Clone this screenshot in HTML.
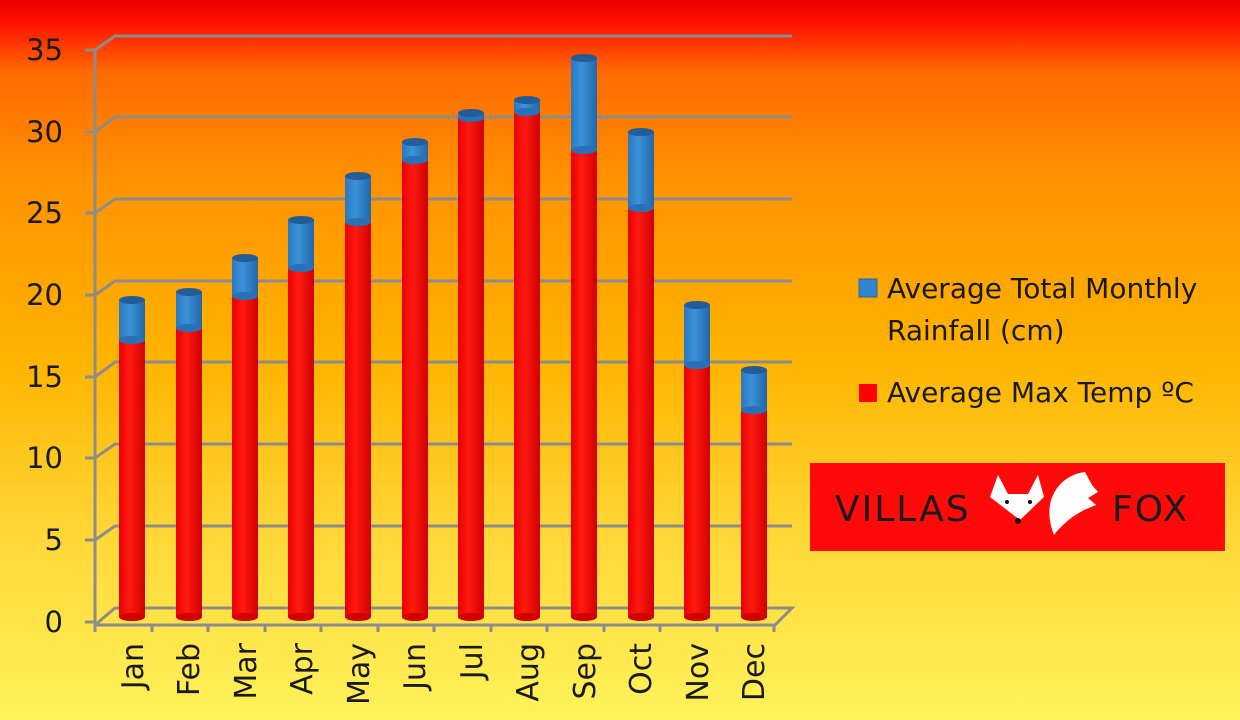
<!DOCTYPE html>
<html><head><meta charset="utf-8"><style>
html,body{margin:0;padding:0;width:1240px;height:720px;overflow:hidden}
svg{display:block}
text{font-family:"DejaVu Sans","Liberation Sans",sans-serif;fill:#1a1a1a}
</style></head><body>
<svg id="s" width="1240" height="720" viewBox="0 0 1240 720" xmlns="http://www.w3.org/2000/svg">
<defs>
<linearGradient id="bg" x1="0" y1="0" x2="0" y2="1">
<stop offset="0" stop-color="#e80000"/>
<stop offset="0.03" stop-color="#ff1000"/>
<stop offset="0.1" stop-color="#ff6a00"/>
<stop offset="0.25" stop-color="#ff9200"/>
<stop offset="0.5" stop-color="#ffb400"/>
<stop offset="0.75" stop-color="#ffd838"/>
<stop offset="1" stop-color="#fff25a"/>
</linearGradient>
<linearGradient id="red" x1="0" y1="0" x2="1" y2="0">
<stop offset="0" stop-color="#e80000"/><stop offset="0.4" stop-color="#ff1a10"/><stop offset="1" stop-color="#d00000"/>
</linearGradient>
<linearGradient id="blue" x1="0" y1="0" x2="1" y2="0">
<stop offset="0" stop-color="#2a78c0"/><stop offset="0.4" stop-color="#3a92d8"/><stop offset="1" stop-color="#2266aa"/>
</linearGradient>
</defs>
<rect width="1240" height="720" fill="url(#bg)"/>
<g stroke="#8c8c8c" stroke-width="3" fill="none">
<path d="M95 50 L95 625 M95 625 L775 625 L792 608 L115 608 L95 625"/>
<path d="M85 50 H95 L115 36 H792"/>
<path d="M85 132 H95 L115 117 H792"/>
<path d="M85 213 H95 L115 199 H792"/>
<path d="M85 295 H95 L115 281 H792"/>
<path d="M85 377 H95 L115 362 H792"/>
<path d="M85 458 H95 L115 444 H792"/>
<path d="M85 540 H95 L115 526 H792"/>
<path d="M85 622 H95"/>
<path d="M95 625 V632 M152 625 V632 M208 625 V632 M265 625 V632 M321 625 V632 M378 625 V632 M434 625 V632 M491 625 V632 M547 625 V632 M604 625 V632 M660 625 V632 M717 625 V632 M774 625 V632"/>
</g>
<g font-size="29" text-anchor="end">
<text x="63" y="60">35</text><text x="63" y="142">30</text><text x="63" y="223">25</text><text x="63" y="305">20</text><text x="63" y="387">15</text><text x="63" y="468">10</text><text x="63" y="550">5</text><text x="63" y="632">0</text>
</g>
<g id="bars"></g>
<g font-size="30" text-anchor="end">
<text transform="translate(143,643) rotate(-90)">Jan</text>
<text transform="translate(199,643) rotate(-90)">Feb</text>
<text transform="translate(256,643) rotate(-90)">Mar</text>
<text transform="translate(312,643) rotate(-90)">Apr</text>
<text transform="translate(369,643) rotate(-90)">May</text>
<text transform="translate(425,643) rotate(-90)">Jun</text>
<text transform="translate(482,643) rotate(-90)">Jul</text>
<text transform="translate(538,643) rotate(-90)">Aug</text>
<text transform="translate(595,643) rotate(-90)">Sep</text>
<text transform="translate(651,643) rotate(-90)">Oct</text>
<text transform="translate(708,643) rotate(-90)">Nov</text>
<text transform="translate(764,643) rotate(-90)">Dec</text>
</g>
<rect x="859" y="279" width="18" height="18" fill="#2f86d0" stroke="#3a5f8a"/>
<rect x="859" y="384" width="18" height="18" fill="#ff0000"/>
<g font-size="28" font-family="Liberation Sans">
<text x="887" y="298">Average Total Monthly</text>
<text x="887" y="340">Rainfall (cm)</text>
<text x="887" y="402">Average Max Temp ºC</text>
</g>
<rect x="810" y="463" width="415" height="88" fill="#ff0a0a"/>
<g font-size="36" style="letter-spacing:2px">
<text x="835" y="521">VILLAS</text>
<text x="1112" y="521">FOX</text>
</g>
<path d="M990 497 L998 475 L1008 494 L1028 494 L1038 475 L1044 497 L1020 520 Z" fill="#fff"/>
<circle cx="1007" cy="502" r="2" fill="#111"/><circle cx="1030" cy="502" r="2" fill="#111"/><circle cx="1018" cy="521" r="3" fill="#111"/>
<path d="M1054 535 C1040 500 1060 475 1085 472 L1092 485 L1098 492 L1088 498 L1096 505 L1084 510 C1075 515 1064 522 1054 535 Z" fill="#fff"/>
</svg>
<script>
var d=[[132,340,300],[189,328,292],[245,296,258],[301,268,220],[358,222,176],[415,160,142],[471,118,113],[527,112,100],[584,150,58],[641,208,132],[697,365,305],[754,410,370]];
var g=document.getElementById('bars'),h='',w=13,b=617;
d.forEach(function(e){var x=e[0],r=e[1],t=e[2];
h+='<rect x="'+(x-w)+'" y="'+r+'" width="'+(2*w)+'" height="'+(b-r)+'" fill="url(#red)"/>';
h+='<ellipse cx="'+x+'" cy="'+b+'" rx="'+w+'" ry="4" fill="#d00000"/>';
h+='<rect x="'+(x-w)+'" y="'+t+'" width="'+(2*w)+'" height="'+(r-t)+'" fill="url(#blue)"/>';
h+='<ellipse cx="'+x+'" cy="'+r+'" rx="'+w+'" ry="4" fill="#2a70b8"/>';
h+='<ellipse cx="'+x+'" cy="'+t+'" rx="'+w+'" ry="4" fill="#245c98"/>';});
g.innerHTML=h;
</script>
</body></html>
